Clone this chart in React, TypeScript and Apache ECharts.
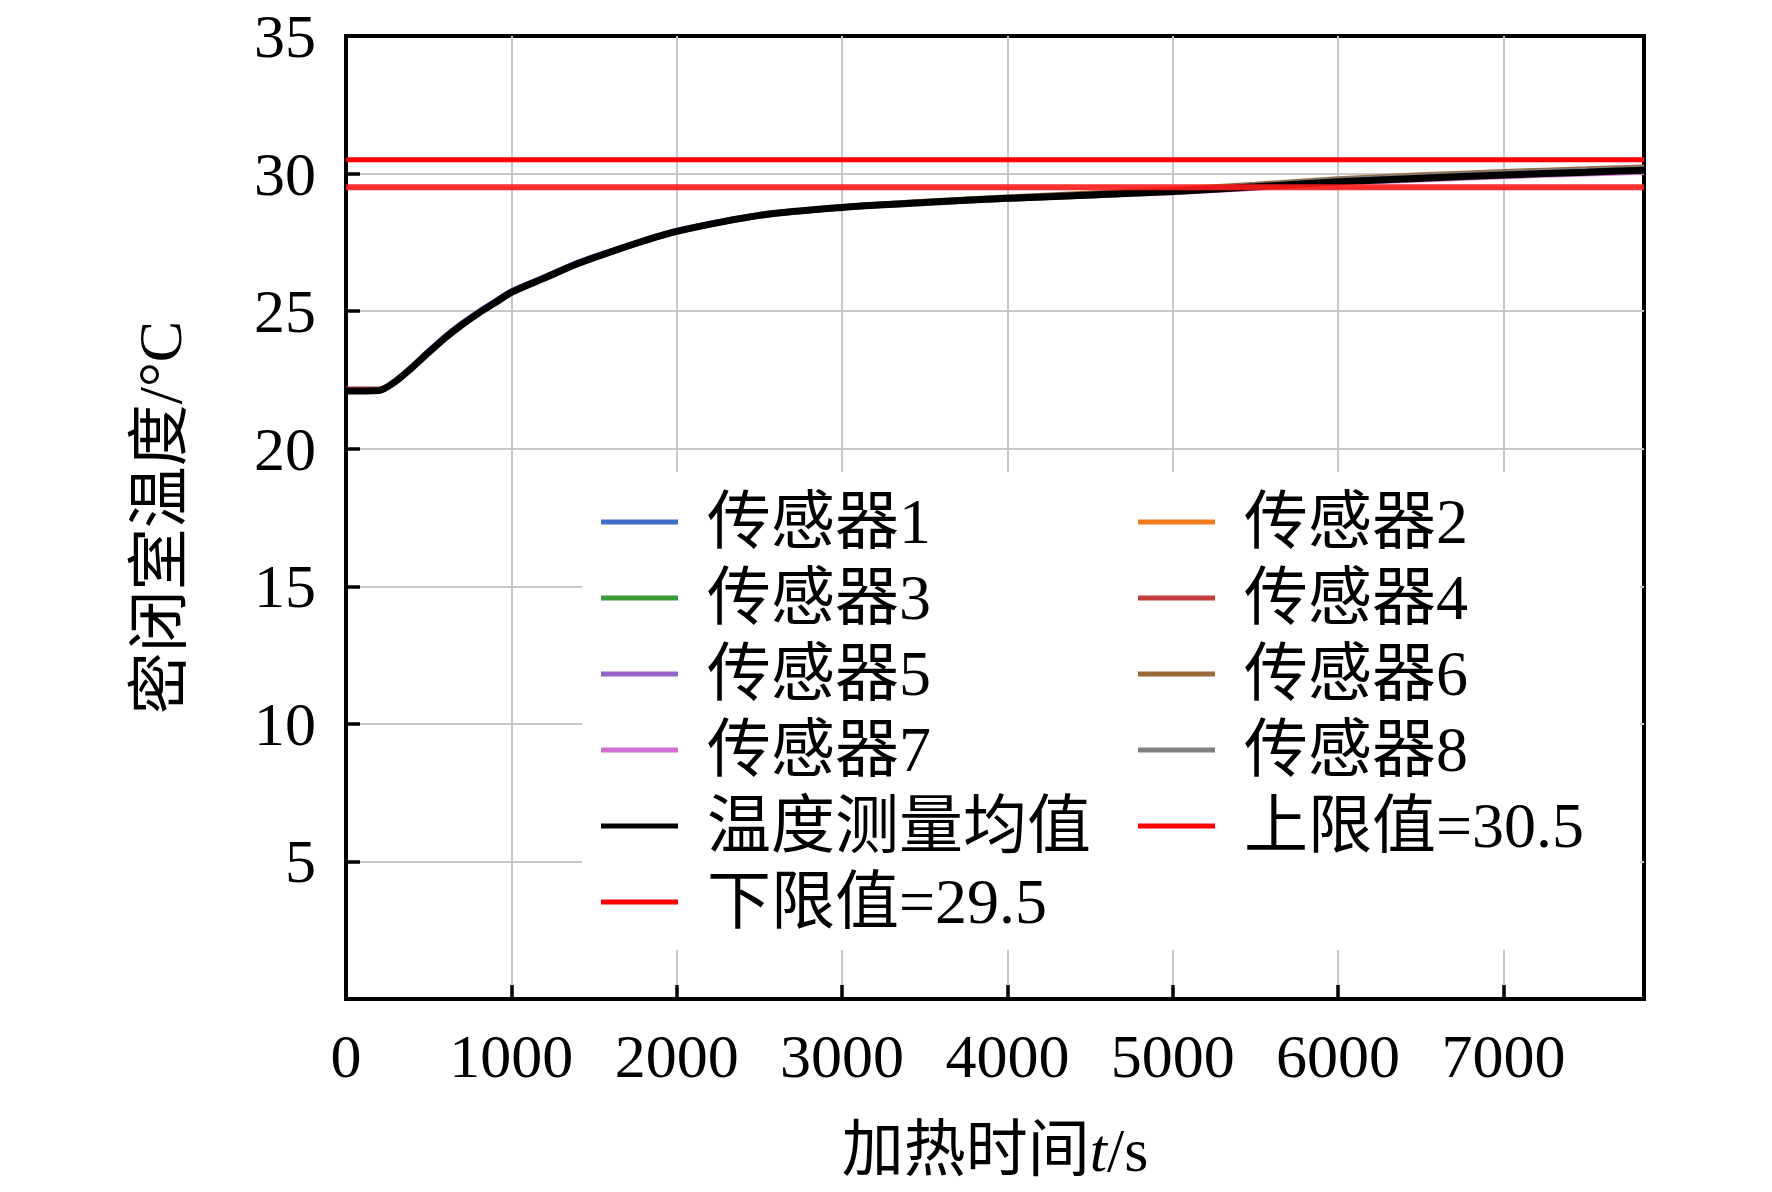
import { useEffect, useRef } from 'react';
import * as echarts from 'echarts';

// heating time, s
const times = [0, 200, 300, 400, 500, 600, 700, 800, 900, 1000, 1200, 1400, 1600, 1800, 2000, 2500, 3000, 3500, 4000, 4500, 5000, 5500, 6000, 6500, 7000, 7500, 7850];

const sensor1 = [22.12, 22.15, 22.5, 23.02, 23.58, 24.12, 24.58, 25.0, 25.38, 25.76, 26.28, 26.8, 27.22, 27.6, 27.95, 28.52, 28.8, 28.97, 29.12, 29.24, 29.36, 29.52, 29.7, 29.84, 29.95, 30.05, 30.12];
const sensor2 = [22.15, 22.16, 22.48, 22.98, 23.53, 24.08, 24.53, 24.95, 25.33, 25.7, 26.22, 26.74, 27.17, 27.57, 27.92, 28.5, 28.8, 28.98, 29.13, 29.26, 29.4, 29.58, 29.76, 29.9, 30.02, 30.12, 30.2];
const sensor3 = [22.08, 22.1, 22.42, 22.92, 23.46, 24.0, 24.46, 24.88, 25.26, 25.64, 26.16, 26.68, 27.1, 27.5, 27.85, 28.42, 28.72, 28.9, 29.04, 29.16, 29.3, 29.48, 29.66, 29.8, 29.92, 30.02, 30.1];
const sensor4 = [22.2, 22.2, 22.5, 23.0, 23.52, 24.06, 24.52, 24.94, 25.32, 25.7, 26.22, 26.74, 27.16, 27.56, 27.9, 28.48, 28.78, 28.96, 29.1, 29.22, 29.36, 29.54, 29.72, 29.85, 29.97, 30.07, 30.14];
const sensor5 = [22.12, 22.14, 22.5, 23.04, 23.6, 24.14, 24.6, 25.02, 25.4, 25.77, 26.28, 26.8, 27.22, 27.62, 27.97, 28.54, 28.82, 29.0, 29.14, 29.26, 29.38, 29.54, 29.7, 29.82, 29.93, 30.02, 30.08];
const sensor6 = [22.1, 22.12, 22.46, 22.96, 23.5, 24.05, 24.5, 24.92, 25.3, 25.68, 26.2, 26.72, 27.15, 27.55, 27.9, 28.5, 28.82, 29.02, 29.18, 29.32, 29.46, 29.64, 29.84, 29.98, 30.1, 30.2, 30.27];
const sensor7 = [22.1, 22.12, 22.44, 22.94, 23.5, 24.06, 24.52, 24.94, 25.32, 25.7, 26.2, 26.7, 27.12, 27.52, 27.86, 28.44, 28.72, 28.9, 29.04, 29.16, 29.28, 29.44, 29.62, 29.74, 29.86, 29.96, 30.02];
const sensor8 = [22.06, 22.08, 22.4, 22.9, 23.46, 24.02, 24.48, 24.9, 25.28, 25.66, 26.18, 26.7, 27.14, 27.54, 27.9, 28.48, 28.8, 28.98, 29.14, 29.28, 29.42, 29.6, 29.8, 29.94, 30.06, 30.16, 30.22];
const meanTemp = [22.1, 22.12, 22.45, 22.95, 23.5, 24.03, 24.5, 24.92, 25.3, 25.68, 26.2, 26.72, 27.15, 27.55, 27.9, 28.48, 28.77, 28.95, 29.1, 29.22, 29.35, 29.52, 29.7, 29.83, 29.95, 30.05, 30.12];

const upperLimit = 30.5;
const lowerLimit = 29.5;
const timeMax = 7850;

const sensorNames = ['传感器1', '传感器2', '传感器3', '传感器4', '传感器5', '传感器6', '传感器7', '传感器8'];
const sensorColors = ['#3f6fc8', '#f47a1f', '#3a9a3a', '#c43c3c', '#9466c8', '#9a6a3a', '#d070d0', '#808080'];
const sensorData = [sensor1, sensor2, sensor3, sensor4, sensor5, sensor6, sensor7, sensor8];

const legendLeft = ['传感器1', '传感器3', '传感器5', '传感器7', '温度测量均值', '下限值=29.5'];
const legendRight = ['传感器2', '传感器4', '传感器6', '传感器8', '上限值=30.5'];

const FONT = '"Liberation Serif", "Times New Roman", "Noto Sans CJK SC", serif';

const pairs = (ys: number[]) => times.map((t, i) => [t, ys[i]]);

export default function App() {
  const chartRef = useRef<HTMLDivElement>(null);

  useEffect(() => {
    document.body.style.margin = '0';
    if (!chartRef.current) return;
    const chart = echarts.init(chartRef.current, undefined, { renderer: 'svg' });

    const legendBase = {
      orient: 'vertical' as const,
      top: 490,
      padding: 0,
      icon: 'rect',
      itemWidth: 77,
      itemHeight: 5,
      itemGap: 12,
      selectedMode: false,
      textStyle: { fontFamily: FONT, fontSize: 64, color: '#000', padding: [0, 0, 0, 24] },
    };

    const series: any[] = sensorNames.map((name, i) => ({
      name,
      type: 'line',
      data: pairs(sensorData[i]),
      symbol: 'none',
      smooth: 0.3,
      lineStyle: { width: 3.5, color: sensorColors[i] },
      itemStyle: { color: sensorColors[i] },
      z: 2,
    }));
    series.push({
      name: '温度测量均值',
      type: 'line',
      data: pairs(meanTemp),
      symbol: 'none',
      smooth: 0.3,
      lineStyle: { width: 7, color: '#000' },
      itemStyle: { color: '#000' },
      z: 3,
    });
    series.push({
      name: '上限值=30.5',
      type: 'line',
      data: [[0, upperLimit], [timeMax, upperLimit]],
      symbol: 'none',
      lineStyle: { width: 5, color: '#ff0000' },
      itemStyle: { color: '#ff0000' },
      z: 4,
    });
    series.push({
      name: '下限值=29.5',
      type: 'line',
      data: [[0, lowerLimit], [timeMax, lowerLimit]],
      symbol: 'none',
      lineStyle: { width: 6, color: '#ff1a1a', opacity: 0.9 },
      itemStyle: { color: '#ff0000' },
      z: 4,
    });

    chart.setOption({
      animation: false,
      backgroundColor: '#fff',
      grid: {
        left: 346, right: 128, top: 36, bottom: 193,
        show: true, borderColor: '#000', borderWidth: 4, backgroundColor: 'transparent',
      },
      graphic: [{
        type: 'rect',
        shape: { x: 582, y: 472, width: 1058, height: 478 },
        style: { fill: '#fff' },
        z: 3,
      }],
      legend: [
        { ...legendBase, left: 601, data: legendLeft },
        { ...legendBase, left: 1138, data: legendRight },
      ],
      xAxis: {
        type: 'value',
        min: 0,
        max: timeMax,
        interval: 1000,
        name: '加热时间{i|t}/s',
        nameLocation: 'middle',
        nameGap: 120,
        nameTextStyle: {
          fontFamily: FONT, fontSize: 62, color: '#000',
          rich: { i: { fontFamily: FONT, fontSize: 62, fontStyle: 'italic', color: '#000' } },
        },
        axisLine: { lineStyle: { color: '#000', width: 4 } },
        axisTick: { inside: true, length: 14, lineStyle: { color: '#000', width: 3.5 } },
        axisLabel: {
          fontFamily: FONT, fontSize: 62, color: '#000', margin: 26, showMaxLabel: false,
          formatter: (v: number) => String(v),
        },
        splitLine: { show: true, showMinLine: false, showMaxLine: false, lineStyle: { color: '#c8c8c8', width: 2 } },
      },
      yAxis: {
        type: 'value',
        min: 0,
        max: 35,
        interval: 5,
        name: '密闭室温度/°C',
        nameLocation: 'middle',
        nameGap: 155,
        nameTextStyle: { fontFamily: FONT, fontSize: 62, color: '#000' },
        axisLine: { lineStyle: { color: '#000', width: 4 } },
        axisTick: { inside: true, length: 14, lineStyle: { color: '#000', width: 3.5 } },
        axisLabel: { fontFamily: FONT, fontSize: 62, color: '#000', margin: 30, showMinLabel: false },
        splitLine: { show: true, showMinLine: false, showMaxLine: false, lineStyle: { color: '#c8c8c8', width: 2 } },
      },
      series,
    });

    return () => {
      chart.dispose();
    };
  }, []);

  return <div ref={chartRef} style={{ width: 1772, height: 1192 }} />;
}
